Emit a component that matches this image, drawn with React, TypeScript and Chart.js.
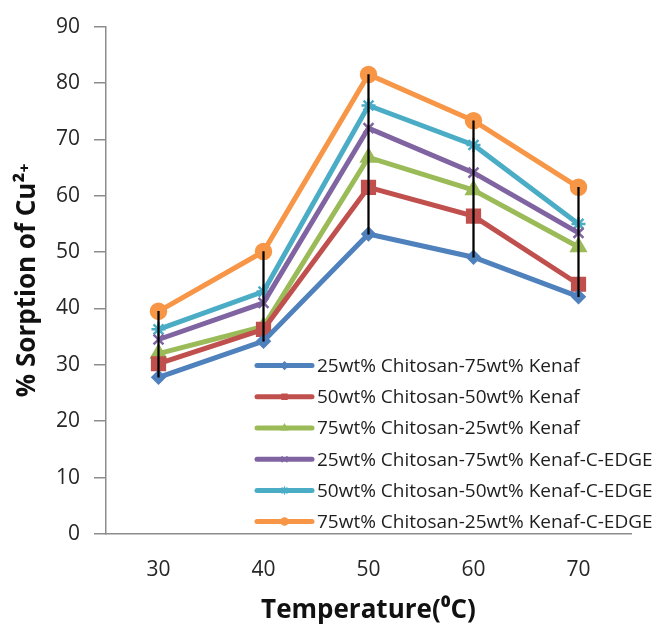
import React, { useEffect, useRef } from 'react';
import { Chart, registerables } from 'chart.js';
import { drawPoint } from 'chart.js/helpers';

Chart.register(...registerables);

const temperatures = ['30', '40', '50', '60', '70'];

const seriesLabels = [
  '25wt% Chitosan-75wt% Kenaf',
  '50wt% Chitosan-50wt% Kenaf',
  '75wt% Chitosan-25wt% Kenaf',
  '25wt% Chitosan-75wt% Kenaf-C-EDGE',
  '50wt% Chitosan-50wt% Kenaf-C-EDGE',
  '75wt% Chitosan-25wt% Kenaf-C-EDGE',
];

const kenaf25 = [27.8, 34.2, 53.2, 49.1, 42.1];
const kenaf50 = [30.2, 36.3, 61.5, 56.4, 44.3];
const kenaf75 = [32, 36.8, 66.8, 61, 50.9];
const edge25 = [34.5, 41, 72, 64.1, 53.4];
const edge50 = [36.3, 43, 76, 69, 55];
const edge75 = [39.5, 50.1, 81.5, 73.3, 61.5];

const seriesValues = [kenaf25, kenaf50, kenaf75, edge25, edge50, edge75];
const seriesColors = ['#4F81BD', '#C0504D', '#9BBB59', '#8064A2', '#4BACC6', '#F79646'];
const seriesMarkers = ['rectRot', 'rect', 'triangle', 'crossRot', 'star', 'circle'];
const markerRadius = [6, 9, 8, 7, 7, 7.5];

const yMin = 0;
const yMax = 90;
const yStep = 10;

const highLow = temperatures.map((_, i) => {
  const vals = seriesValues.map((s) => s[i]);
  return [Math.min(...vals), Math.max(...vals)];
});

const insideLegend = {
  id: 'insideLegend',
  afterDraw(chart: any) {
    const { ctx, chartArea } = chart;
    const lineStart = chartArea.left + 151;
    const lineEnd = chartArea.left + 206;
    const textX = chartArea.left + 211;
    const firstY = chartArea.top + 339;
    const gap = 31.2;
    let row = 0;
    chart.data.datasets.forEach((ds: any) => {
      if (ds.type === 'bar') return;
      const y = firstY + row * gap;
      row++;
      ctx.save();
      ctx.strokeStyle = ds.borderColor;
      ctx.lineWidth = 5;
      ctx.lineCap = 'round';
      ctx.beginPath();
      ctx.moveTo(lineStart, y);
      ctx.lineTo(lineEnd, y);
      ctx.stroke();
      ctx.fillStyle = ds.pointBackgroundColor;
      ctx.strokeStyle = ds.pointBorderColor;
      ctx.lineWidth = 1.5;
      drawPoint(ctx, { pointStyle: ds.pointStyle, rotation: 0, radius: 3.5, borderWidth: 1.5 } as any, (lineStart + lineEnd) / 2, y);
      ctx.fillStyle = '#1e1e1e';
      ctx.font = '19px "Open Sans"';
      ctx.textBaseline = 'middle';
      ctx.textAlign = 'left';
      ctx.fillText(ds.label, textX, y + 1);
      ctx.restore();
    });
  },
};

export default function App() {
  const canvasRef = useRef<HTMLCanvasElement | null>(null);

  useEffect(() => {
    if (!canvasRef.current) return;
    const lineSets = seriesValues.map((vals, i) => ({
      type: 'line' as const,
      label: seriesLabels[i],
      data: vals,
      borderColor: seriesColors[i],
      backgroundColor: seriesColors[i],
      pointBackgroundColor: seriesColors[i],
      pointBorderColor: seriesColors[i],
      pointStyle: seriesMarkers[i],
      pointRadius: markerRadius[i],
      pointBorderWidth: 2.5,
      borderWidth: 5,
      tension: 0,
      order: 1,
    }));
    const chart = new Chart(canvasRef.current, {
      type: 'line',
      data: {
        labels: temperatures,
        datasets: [
          ...lineSets,
          {
            type: 'bar' as const,
            label: 'High-Low',
            data: highLow as any,
            backgroundColor: '#000000',
            borderWidth: 0,
            barThickness: 1.6,
            order: 0,
          } as any,
        ],
      },
      plugins: [insideLegend],
      options: {
        responsive: false,
        animation: false,
        layout: { padding: { top: 23, right: 21, left: 0, bottom: 0 } },
        plugins: {
          legend: { display: false },
          tooltip: { enabled: false },
        },
        scales: {
          x: {
            type: 'category',
            offset: true,
            grid: { display: false, drawTicks: false },
            border: { display: true, color: '#8c8c8c', width: 1.5 },
            ticks: {
              color: '#262626',
              font: { family: '"Open Sans"', size: 21 },
              padding: 23,
            },
            title: {
              display: true,
              text: 'Temperature(⁰C)',
              color: '#111',
              font: { family: '"Open Sans"', size: 26, weight: 'bold' },
              padding: { top: 0, bottom: 2 },
            },
            afterFit: (scale: any) => {
              scale.height = 94;
            },
          },
          y: {
            min: yMin,
            max: yMax,
            ticks: {
              stepSize: yStep,
              color: '#262626',
              font: { family: '"Open Sans"', size: 21 },
              padding: 14,
            },
            grid: {
              display: true,
              drawOnChartArea: false,
              drawTicks: true,
              tickLength: 12,
              color: '#8c8c8c',
              lineWidth: 1.5,
            },
            border: { display: true, color: '#8c8c8c', width: 1.5 },
            title: {
              display: true,
              text: '% Sorption of Cu²⁺',
              color: '#111',
              font: { family: '"Open Sans"', size: 26, weight: 'bold' },
              padding: { top: 12, bottom: 0 },
            },
            afterFit: (scale: any) => {
              scale.width = 106;
            },
          },
        },
      },
    });
    return () => chart.destroy();
  }, []);

  return (
    <div style={{ position: 'absolute', left: 0, top: 0, width: 652, height: 628, background: '#fff' }}>
      <canvas ref={canvasRef} width={652} height={628} style={{ width: 652, height: 628 }} />
    </div>
  );
}
